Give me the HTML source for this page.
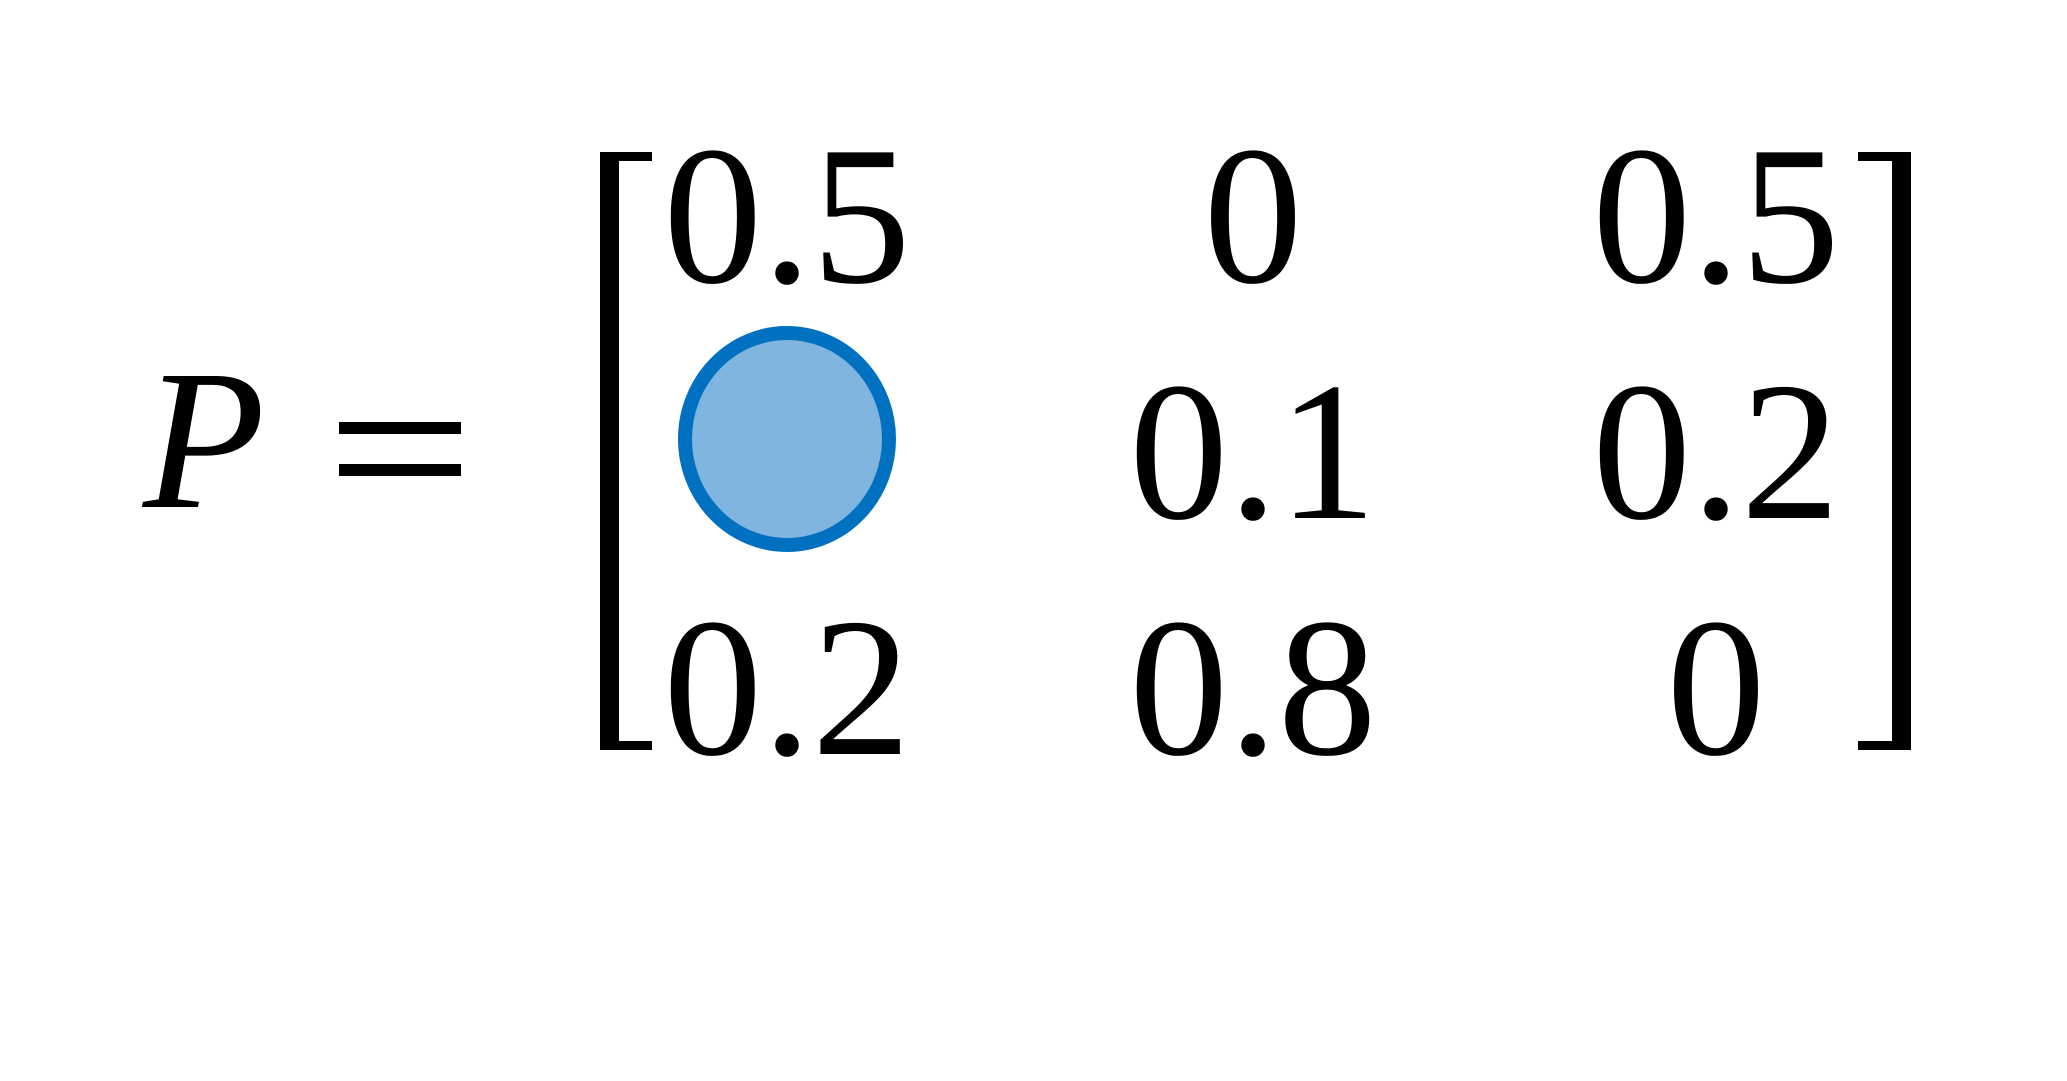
<!DOCTYPE html>
<html>
<head>
<meta charset="utf-8">
<style>
  html, body { margin: 0; padding: 0; background: #ffffff; }
  svg { display: block; }
  text { font-family: "Liberation Serif", "DejaVu Serif", serif; fill: #000; }
</style>
</head>
<body>
<svg id="eq" width="2067" height="1081" viewBox="0 0 2067 1081" xmlns="http://www.w3.org/2000/svg">
  <rect width="2067" height="1081" fill="#ffffff"/>
  <text x="143" y="507" font-size="200" font-style="italic">P</text>
  <g>
    <rect x="339" y="422" width="122" height="12" fill="#000"/>
    <rect x="339" y="464" width="122" height="12" fill="#000"/>
  </g>
  <path d="M600,152 H652 V161 H619 V741 H652 V750 H600 Z" fill="#000"/>
  <path d="M1911,152 H1858 V161 H1892 V741 H1858 V750 H1911 Z" fill="#000"/>
  <g id="cells"></g>
</svg>
<script>
const matrixValues = [
  ["0.5", "0", "0.5"],
  [null, "0.1", "0.2"],
  ["0.2", "0.8", "0"]
];
const colCenters = [787, 1253, 1716];
const rowBaselines = [282, 518, 754];
const NS = "http://www.w3.org/2000/svg";
const g = document.getElementById("cells");
matrixValues.forEach((row, r) => {
  row.forEach((v, c) => {
    if (v === null) {
      const el = document.createElementNS(NS, "ellipse");
      el.setAttribute("cx", colCenters[c]);
      el.setAttribute("cy", rowBaselines[r] - 79);
      el.setAttribute("rx", 102);
      el.setAttribute("ry", 106);
      el.setAttribute("fill", "#80b5df");
      el.setAttribute("stroke", "#0070c0");
      el.setAttribute("stroke-width", "14");
      
      
      g.appendChild(el);
    } else {
      const t = document.createElementNS(NS, "text");
      t.setAttribute("x", colCenters[c]);
      t.setAttribute("y", rowBaselines[r]);
      t.setAttribute("font-size", "198");
      t.setAttribute("text-anchor", "middle");
      t.textContent = v;
      
      
      g.appendChild(t);
    }
  });
});
</script>
</body>
</html>
